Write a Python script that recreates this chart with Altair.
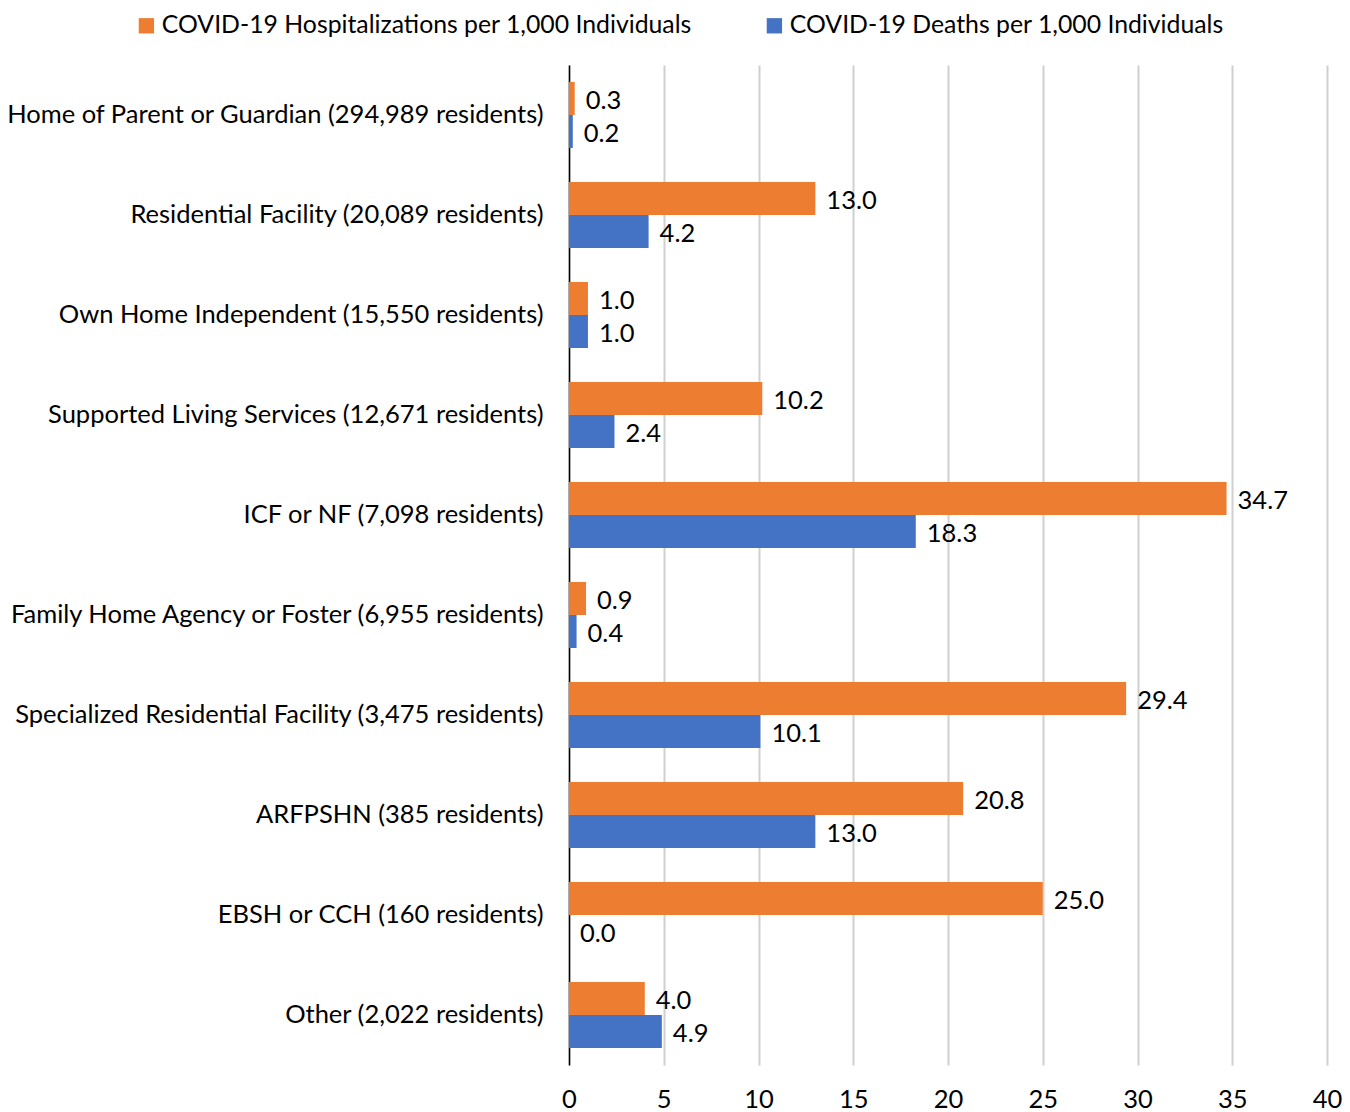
import altair as alt
import pandas as pd

categories = [
    "Home of Parent or Guardian (294,989 residents)",
    "Residential Facility (20,089 residents)",
    "Own Home Independent (15,550 residents)",
    "Supported Living Services (12,671 residents)",
    "ICF or NF (7,098 residents)",
    "Family Home Agency or Foster (6,955 residents)",
    "Specialized Residential Facility (3,475 residents)",
    "ARFPSHN (385 residents)",
    "EBSH or CCH (160 residents)",
    "Other (2,022 residents)",
]
hospitalizations = [0.3, 13.0, 1.0, 10.2, 34.7, 0.9, 29.4, 20.8, 25.0, 4.0]
deaths = [0.2, 4.2, 1.0, 2.4, 18.3, 0.4, 10.1, 13.0, 0.0, 4.9]

series_names = [
    "COVID-19 Hospitalizations per 1,000 Individuals",
    "COVID-19 Deaths per 1,000 Individuals",
]
series_colors = ["#ED7D31", "#4472C4"]

rows = []
for cat, h, d in zip(categories, hospitalizations, deaths):
    rows.append({"category": cat, "series": series_names[0], "value": h})
    rows.append({"category": cat, "series": series_names[1], "value": d})
df = pd.DataFrame(rows)

FONT = "Lato"
FS = 25.5
LEG_FS = 24.8

y_enc = alt.Y(
    "category:N",
    sort=categories,
    scale=alt.Scale(paddingInner=0.34, paddingOuter=0.17),
    axis=alt.Axis(
        title=None,
        labelFontSize=FS,
        labelFont=FONT,
        labelColor="#000000",
        labelPadding=26,
        labelLimit=700,
        ticks=False,
        domain=True,
        domainColor="#000000",
        domainWidth=1.5,
        grid=False,
    ),
)
yoff = alt.YOffset("series:N", sort=series_names, scale=alt.Scale(domain=series_names))

x_enc = alt.X(
    "value:Q",
    scale=alt.Scale(domain=[0, 40], nice=False),
    axis=alt.Axis(
        title=None,
        values=list(range(0, 41, 5)),
        labelFontSize=FS,
        labelFont=FONT,
        labelColor="#000000",
        labelPadding=22,
        labelFlush=False,
        ticks=False,
        domain=False,
        grid=True,
        gridColor="#D0D0D0",
        gridWidth=2,
    ),
)

bars = alt.Chart(df).mark_bar().encode(
    x=x_enc,
    y=y_enc,
    yOffset=yoff,
    color=alt.Color(
        "series:N",
        sort=series_names,
        scale=alt.Scale(domain=series_names, range=series_colors),
        legend=alt.Legend(
            title=None,
            orient="none",
            direction="horizontal",
            legendX=-435,
            legendY=-52,
            symbolType="square",
            symbolSize=235,
            symbolStrokeWidth=0,
            labelFontSize=LEG_FS,
            labelFont=FONT,
            labelColor="#000000",
            labelLimit=700,
            columnPadding=70,
            symbolOffset=0,
            labelOffset=3,
        ),
    ),
)

labels = alt.Chart(df).mark_text(
    align="left", baseline="middle", dx=11, dy=2, fontSize=FS, font=FONT, color="#000000"
).encode(
    x="value:Q",
    y=alt.Y("category:N", sort=categories),
    yOffset=yoff,
    text=alt.Text("value:Q", format=".1f"),
)

chart = (
    alt.layer(bars, labels)
    .properties(
        width=758,
        height=1000,
        autosize=alt.AutoSizeParams(type="none"),
        padding={"left": 569, "top": 65, "right": 23, "bottom": 47},
    )
    .configure_view(stroke=None)
)

chart.save("out.html", embed_options={"renderer": "svg", "actions": False})
